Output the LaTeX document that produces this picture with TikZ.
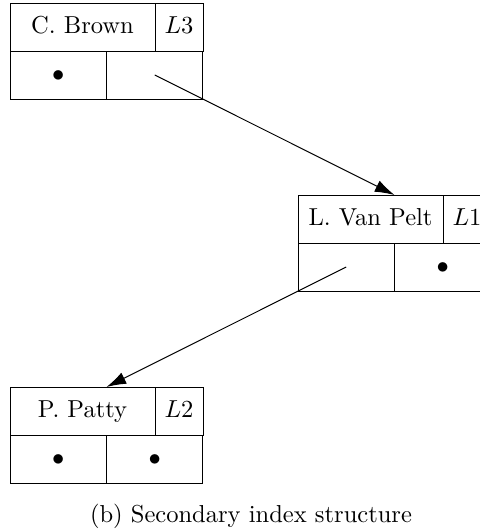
\documentclass[tikz,border=0pt]{standalone}
\usetikzlibrary{arrows.meta,calc}
\begin{document}
\begin{tikzpicture}[x=0.4077pt,y=-0.4077pt,
  cellbase/.style={draw, line width=0.4pt, inner sep=0pt, outer sep=0pt, minimum height=19.57pt, text height=6.9pt, text depth=1.94pt, anchor=north west},
  namecell/.style={cellbase, minimum width=59.12pt},
  labcell/.style={cellbase, minimum width=19.57pt},
  ptrcell/.style={cellbase, minimum width=39.34pt},
  link/.style={line width=0.4pt, -{Latex[length=8pt,width=5pt]}}
]
\useasboundingbox (0,0) rectangle (480,531);

% Record A: C. Brown
\node[namecell] (a-name) at (10,3) {C. Brown};
\node[labcell] (a-lab) at (a-name.north east) {$L3$};
\node[ptrcell] (a-left) at (a-name.south west) {$\bullet$};
\node[ptrcell] (a-right) at (a-left.north east) {};
\coordinate (a-top) at (a-left.north east |- a-name.north);

% Record B: L. Van Pelt
\node[namecell] (b-name) at (298,195) {L. Van Pelt};
\node[labcell] (b-lab) at (b-name.north east) {$L1$};
\node[ptrcell] (b-left) at (b-name.south west) {};
\node[ptrcell] (b-right) at (b-left.north east) {$\bullet$};
\coordinate (b-top) at (b-left.north east |- b-name.north);

% Record C: P. Patty
\node[namecell] (c-name) at (10,387) {P. Patty};
\node[labcell] (c-lab) at (c-name.north east) {$L2$};
\node[ptrcell] (c-left) at (c-name.south west) {$\bullet$};
\node[ptrcell] (c-right) at (c-left.north east) {$\bullet$};
\coordinate (c-top) at (c-left.north east |- c-name.north);

% Links
\draw[link] (a-right.center) -- (b-top);
\draw[link] (b-left.center) -- (c-top);

% Caption
\node (cap) at (251,516) {(b) Secondary index structure};
\end{tikzpicture}
\end{document}
